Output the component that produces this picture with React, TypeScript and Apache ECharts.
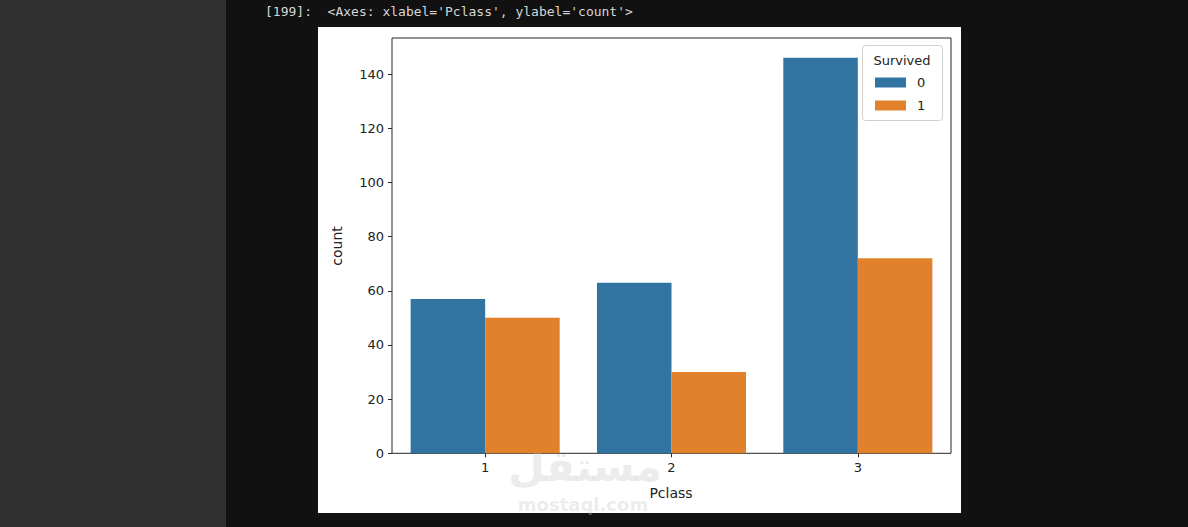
import React, { useEffect, useRef } from "react";
import * as echarts from "echarts";

const categories = ["1", "2", "3"];
const survived0 = [57, 63, 146];
const survived1 = [50, 30, 72];
const legendNames = ["0", "1"];
const yTicks = [0, 20, 40, 60, 80, 100, 120, 140];

const FONT = "DejaVu Sans";

export default function App() {
  const ref = useRef<HTMLDivElement>(null);
  useEffect(() => {
    document.body.style.margin = "0";
    const chart = echarts.init(ref.current!, null, { renderer: "svg" });
    chart.setOption({
      animation: false,
      backgroundColor: "#111111",
      textStyle: { fontFamily: FONT },
      graphic: [
        { type: "rect", z: -10, shape: { x: 0, y: 0, width: 226, height: 527 }, style: { fill: "#2f2f2f" } },
        { type: "rect", z: -10, shape: { x: 318, y: 27, width: 643, height: 486 }, style: { fill: "#ffffff" } },
        {
          type: "text", x: 265, y: 11, z: 5,
          style: { text: "[199]:  <Axes: xlabel='Pclass', ylabel='count'>", fill: "#d6d6d6", font: "13px 'DejaVu Sans Mono'", verticalAlign: "middle", align: "left" },
        },
        {
          type: "text", x: 337, y: 246, rotation: Math.PI / 2, z: 5,
          style: { text: "count", fill: "#222", font: `14px '${FONT}'`, align: "center", verticalAlign: "middle" },
        },
        {
          type: "text", x: 671, y: 493, z: 5,
          style: { text: "Pclass", fill: "#222", font: `14px '${FONT}'`, align: "center", verticalAlign: "middle" },
        },
        {
          type: "text", x: 585, y: 466, z: 1,
          style: { text: "مستقل", fill: "rgba(200,200,200,0.35)", font: `bold 42px '${FONT}'`, align: "center", verticalAlign: "middle" },
        },
        {
          type: "text", x: 583, y: 504, z: 1,
          style: { text: "mostaql.com", fill: "rgba(200,200,200,0.35)", font: `bold 18px '${FONT}'`, align: "center", verticalAlign: "middle" },
        },
        { type: "rect", z: 20, shape: { x: 862.5, y: 45.5, width: 80, height: 75, r: 3 }, style: { fill: "rgba(255,255,255,0.85)", stroke: "#d0d0d0", lineWidth: 1 } },
        {
          type: "text", x: 902, y: 60.5, z: 21,
          style: { text: "Survived", fill: "#222", font: `13px '${FONT}'`, align: "center", verticalAlign: "middle" },
        },
      ],
      grid: { left: 392, top: 38, width: 559, height: 415.3, show: true, borderColor: "#262626", borderWidth: 1, backgroundColor: "transparent" },
      legend: {
        z: 22,
        data: legendNames,
        orient: "vertical",
        left: 875,
        top: 76,
        padding: 0,
        icon: "rect",
        itemWidth: 31,
        itemHeight: 10,
        itemGap: 10,
        textStyle: { fontFamily: FONT, fontSize: 13, color: "#222", lineHeight: 13, padding: [0, 0, 0, 6] },
      },
      xAxis: {
        type: "category",
        data: categories,
        axisLine: { show: false },
        axisTick: { show: true, alignWithLabel: true, length: 4, lineStyle: { color: "#262626" } },
        axisLabel: { fontFamily: FONT, fontSize: 13, color: "#222", margin: 8 },
        splitLine: { show: false },
      },
      yAxis: {
        type: "value",
        min: 0,
        max: 153.3,
        interval: 20,
        axisLine: { show: false },
        axisTick: { show: true, length: 4, lineStyle: { color: "#262626" }, customValues: yTicks },
        axisLabel: { fontFamily: FONT, fontSize: 13, color: "#222", margin: 8, customValues: yTicks },
        splitLine: { show: false },
      },
      series: [
        { name: "0", type: "bar", data: survived0, barGap: "0%", barCategoryGap: "20%", itemStyle: { color: "#3274a1" } },
        { name: "1", type: "bar", data: survived1, barGap: "0%", barCategoryGap: "20%", itemStyle: { color: "#e1812c" } },
      ],
    });
    return () => chart.dispose();
  }, []);
  return <div ref={ref} style={{ position: "absolute", left: 0, top: 0, width: 1188, height: 527 }} />;
}
